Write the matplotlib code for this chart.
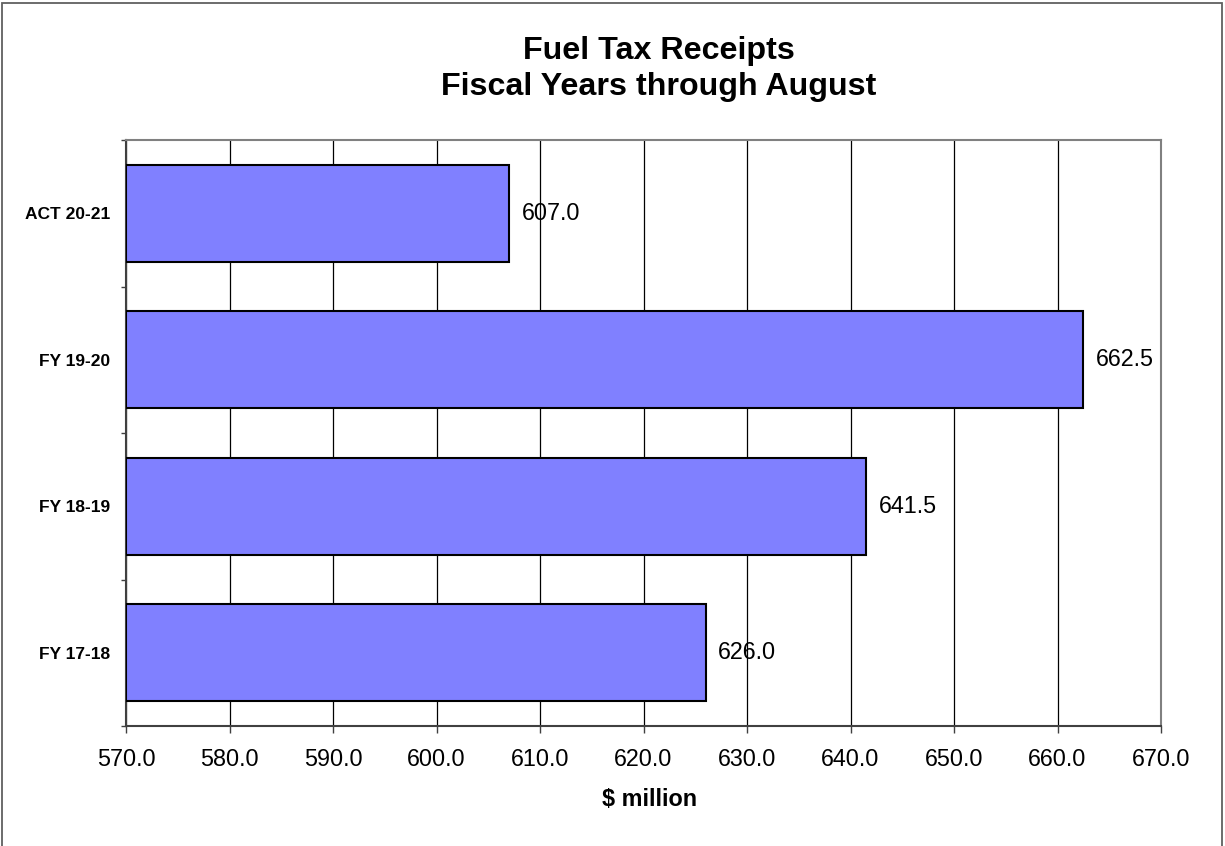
import matplotlib
matplotlib.use('Agg')
from matplotlib import pyplot as plt
from matplotlib.patches import Rectangle

plt.rcParams['font.family'] = ['Liberation Sans', 'DejaVu Sans']

categories: list[str] = ['FY 17-18', 'FY 18-19', 'FY 19-20', 'ACT 20-21']
values: list[float] = [626.0, 641.5, 662.5, 607.0]
x_ticks: list[float] = [570.0, 580.0, 590.0, 600.0, 610.0, 620.0, 630.0, 640.0, 650.0, 660.0, 670.0]

fig = plt.figure(figsize=(12.25, 8.46), dpi=100)
fig.patches.append(Rectangle((0.0015, -0.01), 0.996, 1.007, transform=fig.transFigure, fill=False,
                             edgecolor='#606060', linewidth=1.3))
ax = fig.add_axes((0.1029, 0.1418, 0.8449, 0.6927))

positions = list(range(len(categories)))
ax.barh(y=positions, width=[v - x_ticks[0] for v in values], left=x_ticks[0], height=0.66,
        color='#8080FF', edgecolor='black', linewidth=1.5, zorder=3)
for pos, value in zip(positions, values):
    ax.annotate(f'{value:.1f}', xy=(value, pos), xytext=(9, 0), textcoords='offset points',
                va='center', ha='left', fontsize=16.8, zorder=4)

ax.set_xlim(x_ticks[0], x_ticks[-1])
ax.set_ylim(-0.5, len(categories) - 0.5)
ax.set_xticks(x_ticks)
ax.set_xticklabels([f'{t:.1f}' for t in x_ticks], fontsize=16.8)
ax.set_yticks(positions)
ax.set_yticklabels(categories, fontsize=12.5, fontweight='bold')
ax.tick_params(axis='y', length=0, pad=11.5)
ax.set_yticks([p - 0.5 for p in positions] + [len(categories) - 0.5], minor=True)
ax.tick_params(axis='y', which='minor', length=3.6, width=1, color='#404040')
ax.tick_params(axis='x', length=5, width=1, color='#404040', pad=10.5)
ax.grid(axis='x', color='black', linewidth=0.9, zorder=0)

for side in ['top', 'right']:
    ax.spines[side].set_color('#808080')
    ax.spines[side].set_linewidth(1.5)
for side in ['left', 'bottom']:
    ax.spines[side].set_color('#404040')
    ax.spines[side].set_linewidth(1.5)

fig.text(0.530, 1 - 806 / 846, '$ million', ha='center', va='baseline', fontsize=16.8, fontweight='bold')
fig.text(0.538, 1 - 59 / 846, 'Fuel Tax Receipts', ha='center', va='baseline',
         fontsize=23.2, fontweight='bold')
fig.text(0.538, 1 - 95 / 846, 'Fiscal Years through August', ha='center', va='baseline',
         fontsize=23.2, fontweight='bold')

fig.savefig('out.png', dpi=100)
